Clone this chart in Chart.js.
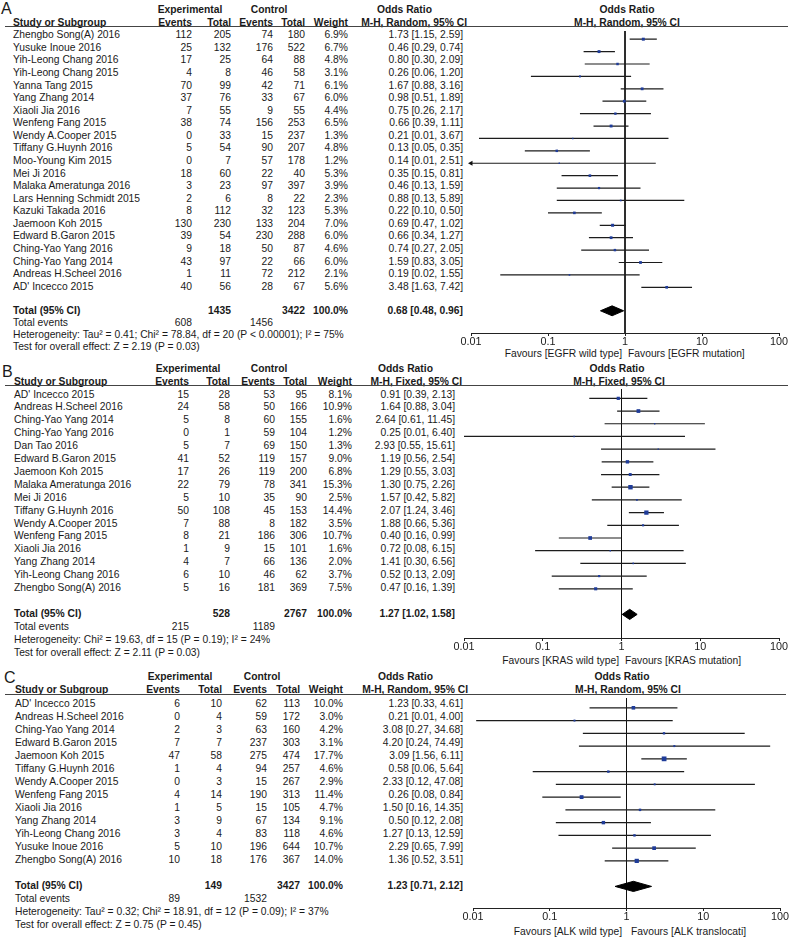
<!DOCTYPE html>
<html>
<head>
<meta charset="utf-8">
<script src="https://cdn.jsdelivr.net/npm/chart.js@4.4.1/dist/chart.umd.min.js"></script>
<style>
html, body { margin: 0; padding: 0; background: #fff; overflow: hidden; }
#page { position: relative; width: 791px; height: 937px; font-family: "Liberation Sans", Arial, sans-serif; font-size: 10.3px; color: #1a1a1a; }
.t { position: absolute; white-space: nowrap; line-height: 1; }
.b { font-weight: bold; }
.big { font-size: 16px; }
.rule { position: absolute; height: 1px; background: #444; }
canvas { position: absolute; }
</style>
</head>
<body>
<div id="page"></div>
<script>
// ---- shared axis ticks
const tickVals = [0.01, 0.1, 1, 10, 100];

// ---- A: EGFR
const studiesA = ["Zhengbo Song(A) 2016", "Yusuke Inoue 2016", "Yih-Leong Chang 2016", "Yih-Leong Chang 2015", "Yanna Tang 2015", "Yang Zhang 2014", "Xiaoli Jia 2016", "Wenfeng Fang 2015", "Wendy A.Cooper 2015", "Tiffany G.Huynh 2016", "Moo-Young Kim 2015", "Mei Ji 2016", "Malaka Ameratunga 2016", "Lars Henning Schmidt 2015", "Kazuki Takada 2016", "Jaemoon Koh 2015", "Edward B.Garon 2015", "Ching-Yao Yang 2016", "Ching-Yao Yang 2014", "Andreas H.Scheel 2016", "AD' Incecco 2015"];
const expEvA = [112, 25, 17, 4, 70, 37, 7, 38, 0, 5, 0, 18, 3, 2, 8, 130, 39, 9, 43, 1, 40];
const expTotA = [205, 132, 25, 8, 99, 76, 55, 74, 33, 54, 7, 60, 23, 6, 112, 230, 54, 18, 97, 11, 56];
const ctrlEvA = [74, 176, 64, 46, 42, 33, 9, 156, 15, 90, 57, 22, 97, 8, 32, 133, 230, 50, 22, 72, 28];
const ctrlTotA = [180, 522, 88, 58, 71, 67, 55, 253, 237, 207, 178, 40, 397, 22, 123, 204, 288, 87, 66, 212, 67];
const weightA = [6.9, 6.7, 4.8, 3.1, 6.1, 6.0, 4.4, 6.5, 1.3, 4.8, 1.2, 5.3, 3.9, 2.3, 5.3, 7.0, 6.0, 4.6, 6.0, 2.1, 5.6];
const orA = [1.73, 0.46, 0.80, 0.26, 1.67, 0.98, 0.75, 0.66, 0.21, 0.13, 0.14, 0.35, 0.46, 0.88, 0.22, 0.69, 0.66, 0.74, 1.59, 0.19, 3.48];
const loA = [1.15, 0.29, 0.30, 0.06, 0.88, 0.51, 0.26, 0.39, 0.0127, 0.05, 0.008, 0.15, 0.13, 0.13, 0.10, 0.47, 0.34, 0.27, 0.83, 0.024, 1.63];
const hiA = [2.59, 0.74, 2.09, 1.20, 3.16, 1.89, 2.17, 1.11, 3.67, 0.35, 2.51, 0.81, 1.59, 5.89, 0.50, 1.02, 1.27, 2.05, 3.05, 1.55, 7.42];
const totalsA = [1435, 3422];
const eventsA = [608, 1456];
const pooledA = [0.68, 0.48, 0.96];
const hetA = "Heterogeneity: Tau² = 0.41; Chi² = 78.84, df = 20 (P < 0.00001); I² = 75%";
const testA = "Test for overall effect: Z = 2.19 (P = 0.03)";
const favA = ["Favours [EGFR wild type]", "Favours [EGFR mutation]"];

// ---- B: KRAS
const studiesB = ["AD' Incecco 2015", "Andreas H.Scheel 2016", "Ching-Yao Yang 2014", "Ching-Yao Yang 2016", "Dan Tao 2016", "Edward B.Garon 2015", "Jaemoon Koh 2015", "Malaka Ameratunga 2016", "Mei Ji 2016", "Tiffany G.Huynh 2016", "Wendy A.Cooper 2015", "Wenfeng Fang 2015", "Xiaoli Jia 2016", "Yang Zhang 2014", "Yih-Leong Chang 2016", "Zhengbo Song(A) 2016"];
const expEvB = [15, 24, 5, 0, 5, 41, 17, 22, 5, 50, 7, 8, 1, 4, 6, 5];
const expTotB = [28, 58, 8, 1, 7, 52, 26, 79, 10, 108, 88, 21, 9, 7, 10, 16];
const ctrlEvB = [53, 50, 60, 59, 69, 119, 119, 78, 35, 45, 8, 186, 15, 66, 46, 181];
const ctrlTotB = [95, 166, 155, 104, 150, 157, 200, 341, 90, 153, 182, 306, 101, 136, 62, 369];
const weightB = [8.1, 10.9, 1.6, 1.2, 1.3, 9.0, 6.8, 15.3, 2.5, 14.4, 3.5, 10.7, 1.6, 2.0, 3.7, 7.5];
const orB = [0.91, 1.64, 2.64, 0.25, 2.93, 1.19, 1.29, 1.30, 1.57, 2.07, 1.88, 0.40, 0.72, 1.41, 0.52, 0.47];
const loB = [0.39, 0.88, 0.61, 0.01, 0.55, 0.56, 0.55, 0.75, 0.42, 1.24, 0.66, 0.16, 0.08, 0.30, 0.13, 0.16];
const hiB = [2.13, 3.04, 11.45, 6.40, 15.61, 2.54, 3.03, 2.26, 5.82, 3.46, 5.36, 0.99, 6.15, 6.56, 2.09, 1.39];
const totalsB = [528, 2767];
const eventsB = [215, 1189];
const pooledB = [1.27, 1.02, 1.58];
const hetB = "Heterogeneity: Chi² = 19.63, df = 15 (P = 0.19); I² = 24%";
const testB = "Test for overall effect: Z = 2.11 (P = 0.03)";
const favB = ["Favours [KRAS wild type]", "Favours [KRAS mutation]"];

// ---- C: ALK
const studiesC = ["AD' Incecco 2015", "Andreas H.Scheel 2016", "Ching-Yao Yang 2014", "Edward B.Garon 2015", "Jaemoon Koh 2015", "Tiffany G.Huynh 2016", "Wendy A.Cooper 2015", "Wenfeng Fang 2015", "Xiaoli Jia 2016", "Yang Zhang 2014", "Yih-Leong Chang 2016", "Yusuke Inoue 2016", "Zhengbo Song(A) 2016"];
const expEvC = [6, 0, 2, 7, 47, 1, 0, 4, 1, 3, 3, 5, 10];
const expTotC = [10, 4, 3, 7, 58, 4, 3, 14, 5, 9, 4, 10, 18];
const ctrlEvC = [62, 59, 63, 237, 275, 94, 15, 190, 15, 67, 83, 196, 176];
const ctrlTotC = [113, 172, 160, 303, 474, 257, 267, 313, 105, 134, 118, 644, 367];
const weightC = [10.0, 3.0, 4.2, 3.1, 17.7, 4.6, 2.9, 11.4, 4.7, 9.1, 4.6, 10.7, 14.0];
const orC = [1.23, 0.21, 3.08, 4.20, 3.09, 0.58, 2.33, 0.26, 1.50, 0.50, 1.27, 2.29, 1.36];
const loC = [0.33, 0.011, 0.27, 0.24, 1.56, 0.06, 0.12, 0.08, 0.16, 0.12, 0.13, 0.65, 0.52];
const hiC = [4.61, 4.00, 34.68, 74.49, 6.11, 5.64, 47.08, 0.84, 14.35, 2.08, 12.59, 7.99, 3.51];
const totalsC = [149, 3427];
const eventsC = [89, 1532];
const pooledC = [1.23, 0.71, 2.12];
const hetC = "Heterogeneity: Tau² = 0.32; Chi² = 18.91, df = 12 (P = 0.09); I² = 37%";
const testC = "Test for overall effect: Z = 0.75 (P = 0.45)";
const favC = ["Favours [ALK wild type]", "Favours [ALK translocati]"];

const page = document.getElementById('page');
const FONT = '"Liberation Sans", Arial, sans-serif';

function put(str, x, y, align, cls) {
    const el = document.createElement('div');
    el.className = 't' + (cls ? ' ' + cls : '');
    el.textContent = str;
    el.style.left = x + 'px';
    el.style.top = y + 'px';
    const tx = align === 'r' ? '-100%' : (align === 'c' ? '-50%' : '0');
    el.style.transform = 'translate(' + tx + ',-50%)';
    page.appendChild(el);
}

function ciText(o, l, h) {
    return o.toFixed(2) + ' [' + l.toFixed(2) + ', ' + h.toFixed(2) + ']';
}

function panel(lay, d) {
    const c = lay.cols, h = lay.hdr;
    put(lay.letter, lay.letterX, lay.letterY, 'l', 'big');
    put('Experimental', h.exp, lay.head1, 'c', 'b');
    put('Control', h.ctrl, lay.head1, 'c', 'b');
    put('Odds Ratio', h.orLeftL, lay.head1, 'l', 'b');
    put('Odds Ratio', h.orRightC, lay.head1, 'c', 'b');
    put('Study or Subgroup', c.name, lay.head2, 'l', 'b');
    put('Events', c.expEv, lay.head2, 'r', 'b');
    put('Total', c.expTot, lay.head2, 'r', 'b');
    put('Events', c.ctrlEv, lay.head2, 'r', 'b');
    put('Total', c.ctrlTot, lay.head2, 'r', 'b');
    put('Weight', c.weight, lay.head2, 'r', 'b');
    put(d.method, h.mhRight, lay.head2, 'r', 'b');
    put(d.method, h.mhRightC, lay.head2, 'c', 'b');

    const rule = document.createElement('div');
    rule.className = 'rule';
    rule.style.left = '5px';
    rule.style.top = lay.rule + 'px';
    rule.style.width = (lay.ruleR - 5) + 'px';
    page.appendChild(rule);

    d.studies.forEach((s, i) => {
        const y = lay.row0 + i * lay.step;
        put(s, c.name, y);
        put(String(d.expEv[i]), c.expEv, y, 'r');
        put(String(d.expTot[i]), c.expTot, y, 'r');
        put(String(d.ctrlEv[i]), c.ctrlEv, y, 'r');
        put(String(d.ctrlTot[i]), c.ctrlTot, y, 'r');
        put(d.weight[i].toFixed(1) + '%', c.weight, y, 'r');
        put(ciText(d.or[i], d.lo[i], d.hi[i]), c.or, y, 'r');
    });

    const f = lay.foot;
    put('Total (95% CI)', c.name, f[0], 'l', 'b');
    put(String(d.totals[0]), c.expTot, f[0], 'r', 'b');
    put(String(d.totals[1]), c.ctrlTot, f[0], 'r', 'b');
    put('100.0%', c.weight, f[0], 'r', 'b');
    put(ciText(d.pooled[0], d.pooled[1], d.pooled[2]), c.or, f[0], 'r', 'b');
    put('Total events', c.name, f[1]);
    put(String(d.events[0]), c.expEv, f[1], 'r');
    put(String(d.events[1]), c.ctrlEv, f[1], 'r');
    put(d.het, c.name, f[2]);
    put(d.test, c.name, f[3]);

    put(d.fav[0], lay.fav[0], lay.favY, 'r');
    put(d.fav[1], lay.fav[1], lay.favY, 'l');

    forest(lay, d);
}

function forest(lay, d) {
    const padL = 14, padR = 10, axisH = 24;
    const w = lay.axisR - lay.axisL + padL + padR;
    const hgt = lay.axisY - lay.plotTop + axisH;
    const cv = document.createElement('canvas');
    cv.width = w; cv.height = hgt;
    cv.style.width = w + 'px'; cv.style.height = hgt + 'px';
    cv.style.left = (lay.axisL - padL) + 'px';
    cv.style.top = lay.plotTop + 'px';
    page.appendChild(cv);

    const yMin = (lay.plotTop - lay.row0) / lay.step;
    const yMax = (lay.axisY - lay.row0) / lay.step;
    const yTot = (lay.foot[0] - lay.row0) / lay.step;
    const xMin = tickVals[0], xMax = tickVals[tickVals.length - 1];

    const ci = [];
    d.lo.forEach((lo, i) => {
        ci.push({ x: Math.max(lo, xMin), y: i }, { x: Math.min(d.hi[i], xMax), y: i }, { x: null, y: null });
    });
    const arrows = [];
    d.lo.forEach((lo, i) => { if (lo < xMin) arrows.push({ x: xMin, y: i }); });
    const pts = d.or.map((o, i) => ({ x: o, y: i }));
    const dh = 0.4;
    const diamond = [
        { x: d.pooled[1], y: yTot }, { x: d.pooled[0], y: yTot - dh },
        { x: d.pooled[2], y: yTot }, { x: d.pooled[0], y: yTot + dh },
        { x: d.pooled[1], y: yTot }
    ];

    new Chart(cv.getContext('2d'), {
        type: 'scatter',
        data: {
            datasets: [{
                data: pts,
                order: 0,
                pointStyle: 'rect',
                pointRadius: ctx => Math.max(1, 0.8 * Math.sqrt(d.weight[ctx.dataIndex])),
                pointBackgroundColor: '#1f3c99',
                pointBorderWidth: 0
            }, {
                data: diamond,
                order: 1,
                showLine: true,
                tension: 0,
                fill: 'shape',
                backgroundColor: '#000',
                borderColor: '#000',
                borderWidth: 1,
                pointRadius: 0
            }, {
                data: arrows,
                order: 1,
                clip: false,
                pointStyle: 'triangle',
                rotation: -90,
                pointRadius: 3,
                pointBackgroundColor: '#111',
                pointBorderColor: '#111',
                pointBorderWidth: 0
            }, {
                data: ci,
                order: 2,
                showLine: true,
                spanGaps: false,
                borderColor: '#1c1c1c',
                borderWidth: 1.2,
                pointRadius: 0
            }, {
                data: [{ x: 1, y: yMin }, { x: 1, y: yMax }],
                order: 3,
                showLine: true,
                borderColor: '#111',
                borderWidth: 1,
                pointRadius: 0
            }]
        },
        options: {
            responsive: false,
            animation: false,
            events: [],
            layout: { padding: { left: padL, right: padR, top: 0, bottom: 0 } },
            plugins: { legend: { display: false }, tooltip: { enabled: false } },
            scales: {
                x: {
                    type: 'logarithmic',
                    min: xMin,
                    max: xMax,
                    afterBuildTicks: s => { s.ticks = tickVals.map(v => ({ value: v })); },
                    afterFit: s => { s.height = axisH; s.paddingLeft = 0; s.paddingRight = 0; },
                    ticks: {
                        callback: v => String(v),
                        autoSkip: false,
                        maxRotation: 0,
                        padding: 0,
                        color: '#1a1a1a',
                        font: { family: FONT, size: 10.8 }
                    },
                    grid: { drawOnChartArea: false, drawTicks: true, tickLength: 3, color: '#222', lineWidth: 1 },
                    border: { display: true, color: '#222', width: 1 }
                },
                y: { type: 'linear', reverse: true, min: yMin, max: yMax, display: false }
            }
        }
    });
}

panel({
    letter: 'A', letterX: 1, letterY: 8.5, head1: 10, head2: 23, rule: 26, ruleR: 788,
    row0: 35.3, step: 12.57, foot: [310.5, 322.8, 335.1, 347.4],
    cols: { name: 13, expEv: 192, expTot: 231, ctrlEv: 273, ctrlTot: 305, weight: 348, or: 463 },
    hdr: { exp: 190, ctrl: 269, orLeftL: 377, mhRight: 467, orRightC: 627, mhRightC: 627 },
    axisL: 471, axisR: 779, plotTop: 27, axisY: 333, favY: 354, fav: [622, 628]
}, {
    method: 'M-H, Random, 95% CI', studies: studiesA, expEv: expEvA, expTot: expTotA, ctrlEv: ctrlEvA, ctrlTot: ctrlTotA,
    weight: weightA, or: orA, lo: loA, hi: hiA, totals: totalsA, events: eventsA, pooled: pooledA, het: hetA, test: testA, fav: favA
});

panel({
    letter: 'B', letterX: 2, letterY: 372, head1: 368.5, head2: 382, rule: 385, ruleR: 788,
    row0: 394.5, step: 12.9, foot: [614, 627, 640, 653],
    cols: { name: 14, expEv: 189, expTot: 230, ctrlEv: 275, ctrlTot: 307, weight: 352, or: 455 },
    hdr: { exp: 188, ctrl: 269, orLeftL: 378, mhRight: 462, orRightC: 617, mhRightC: 619 },
    axisL: 464, axisR: 779, plotTop: 385, axisY: 638, favY: 660.7, fav: [619, 625]
}, {
    method: 'M-H, Fixed, 95% CI', studies: studiesB, expEv: expEvB, expTot: expTotB, ctrlEv: ctrlEvB, ctrlTot: ctrlTotB,
    weight: weightB, or: orB, lo: loB, hi: hiB, totals: totalsB, events: eventsB, pooled: pooledB, het: hetB, test: testB, fav: favB
});

panel({
    letter: 'C', letterX: 4, letterY: 677.5, head1: 677, head2: 690, rule: 694, ruleR: 786,
    row0: 704, step: 13, foot: [886, 899, 912, 925],
    cols: { name: 15, expEv: 180, expTot: 222, ctrlEv: 267, ctrlTot: 300, weight: 343, or: 463 },
    hdr: { exp: 180, ctrl: 262, orLeftL: 378, mhRight: 468, orRightC: 622, mhRightC: 628 },
    axisL: 473, axisR: 780, plotTop: 694, axisY: 908, favY: 932.3, fav: [622, 631]
}, {
    method: 'M-H, Random, 95% CI', studies: studiesC, expEv: expEvC, expTot: expTotC, ctrlEv: ctrlEvC, ctrlTot: ctrlTotC,
    weight: weightC, or: orC, lo: loC, hi: hiC, totals: totalsC, events: eventsC, pooled: pooledC, het: hetC, test: testC, fav: favC
});
</script>
</body>
</html>
